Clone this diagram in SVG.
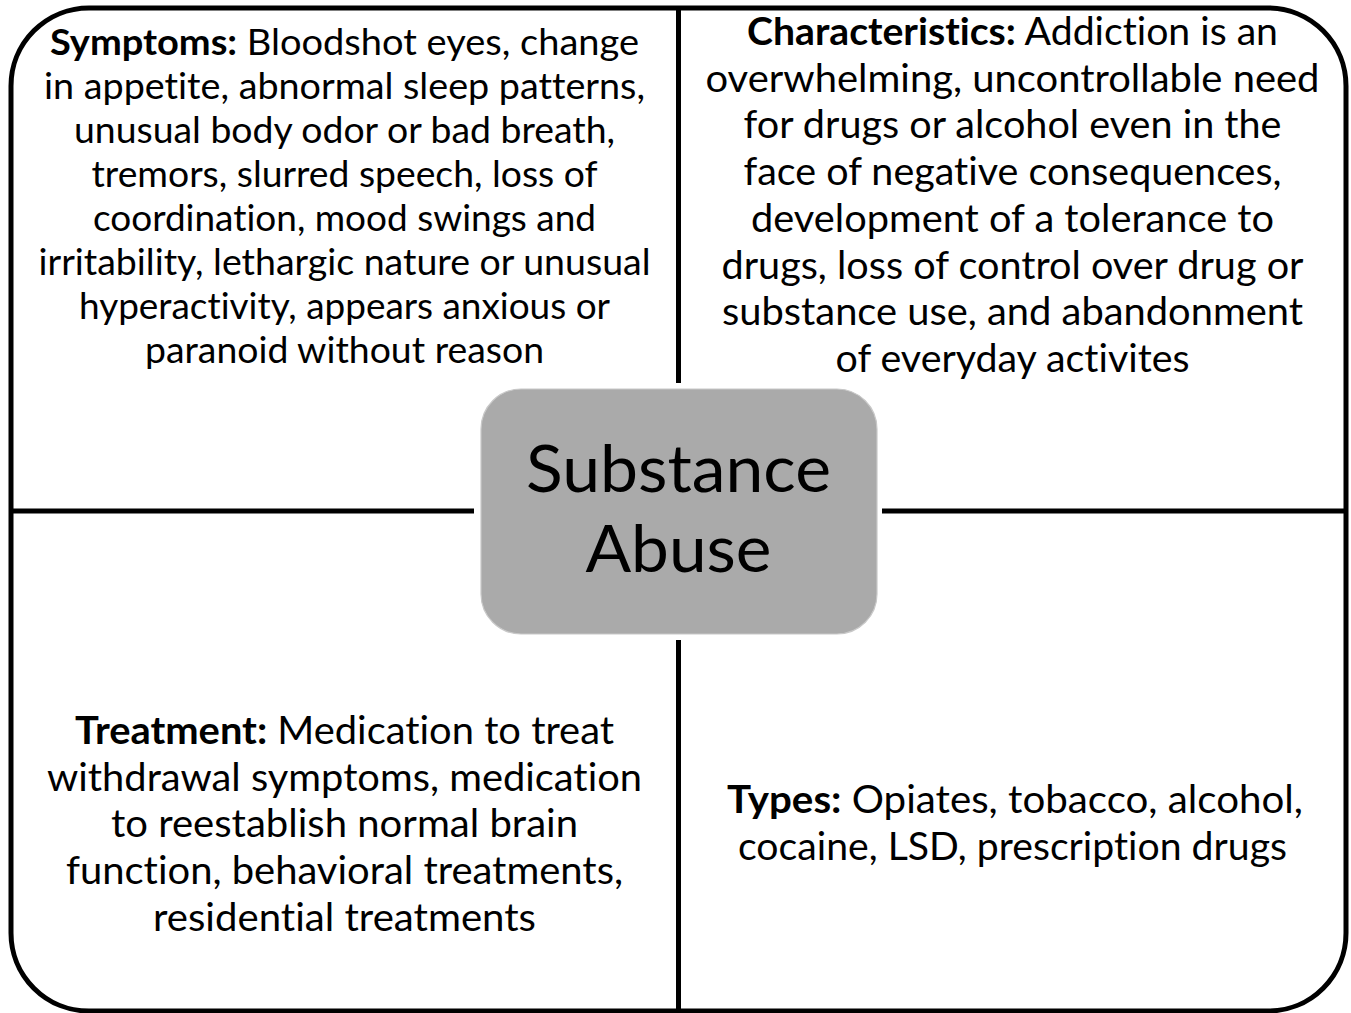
<svg xmlns="http://www.w3.org/2000/svg" width="1351" height="1013" viewBox="0 0 1351 1013">
  <style>
    .frame { fill: #ffffff; stroke: #000000; stroke-width: 5; }
    .divider { stroke: #000000; stroke-width: 5; fill: none; }
    .hub { fill: #aaaaaa; stroke: #c8c8c8; stroke-width: 1.2; }
    .t { font-family: Lato, "Open Sans", "Liberation Sans", sans-serif; fill: #000000; text-anchor: middle; font-variant-ligatures: none; }
    .s40 { font-size: 36.2px; }
    .s42 { font-size: 38.6px; }
    .hubtext { font-size: 66.5px; }
    .b { font-weight: bold; }
  </style>

  <rect width="1351" height="1013" fill="#ffffff"/>

  <!-- outer rounded frame -->
  <g id="frame">
    <rect class="frame" x="11" y="8" width="1335" height="1003" rx="78" ry="78"/>
  </g>

  <!-- quadrant dividers leading to the hub -->
  <g id="connectors">
    <line class="divider" x1="678.5" y1="8" x2="678.5" y2="383"/>
    <line class="divider" x1="678.5" y1="640" x2="678.5" y2="1011"/>
    <line class="divider" x1="11" y1="511" x2="474" y2="511"/>
    <line class="divider" x1="882" y1="511" x2="1346" y2="511"/>
  </g>

  <!-- top-left quadrant -->
  <g id="symptoms" class="t s40">
    <text x="344.5" y="55" textLength="589" lengthAdjust="spacingAndGlyphs"><tspan class="b">Symptoms:</tspan> Bloodshot eyes, change</text>
    <text x="344.5" y="99" textLength="601" lengthAdjust="spacingAndGlyphs">in appetite, abnormal sleep patterns,</text>
    <text x="344.5" y="143" textLength="541" lengthAdjust="spacingAndGlyphs">unusual body odor or bad breath,</text>
    <text x="344.5" y="187" textLength="506" lengthAdjust="spacingAndGlyphs">tremors, slurred speech, loss of</text>
    <text x="344.5" y="231" textLength="503" lengthAdjust="spacingAndGlyphs">coordination, mood swings and</text>
    <text x="344.5" y="275" textLength="612" lengthAdjust="spacingAndGlyphs">irritability, lethargic nature or unusual</text>
    <text x="344.5" y="319" textLength="531" lengthAdjust="spacingAndGlyphs">hyperactivity, appears anxious or</text>
    <text x="344.5" y="363" textLength="399" lengthAdjust="spacingAndGlyphs">paranoid without reason</text>
  </g>

  <!-- top-right quadrant -->
  <g id="characteristics" class="t s42">
    <text x="1012.5" y="45" textLength="531" lengthAdjust="spacingAndGlyphs"><tspan class="b">Characteristics:</tspan> Addiction is an</text>
    <text x="1012.5" y="91.7" textLength="614" lengthAdjust="spacingAndGlyphs">overwhelming, uncontrollable need</text>
    <text x="1012.5" y="138.4" textLength="538" lengthAdjust="spacingAndGlyphs">for drugs or alcohol even in the</text>
    <text x="1012.5" y="185.1" textLength="538" lengthAdjust="spacingAndGlyphs">face of negative consequences,</text>
    <text x="1012.5" y="231.8" textLength="523" lengthAdjust="spacingAndGlyphs">development of a tolerance to</text>
    <text x="1012.5" y="278.5" textLength="582" lengthAdjust="spacingAndGlyphs">drugs, loss of control over drug or</text>
    <text x="1012.5" y="325.2" textLength="581" lengthAdjust="spacingAndGlyphs">substance use, and abandonment</text>
    <text x="1012.5" y="371.9" textLength="354" lengthAdjust="spacingAndGlyphs">of everyday activites</text>
  </g>

  <!-- bottom-left quadrant -->
  <g id="treatment" class="t s42">
    <text x="344.5" y="744" textLength="539" lengthAdjust="spacingAndGlyphs"><tspan class="b">Treatment:</tspan> Medication to treat</text>
    <text x="344.5" y="790.7" textLength="595" lengthAdjust="spacingAndGlyphs">withdrawal symptoms, medication</text>
    <text x="344.5" y="837.4" textLength="467" lengthAdjust="spacingAndGlyphs">to reestablish normal brain</text>
    <text x="344.5" y="884.1" textLength="557" lengthAdjust="spacingAndGlyphs">function, behavioral treatments,</text>
    <text x="344.5" y="930.8" textLength="383" lengthAdjust="spacingAndGlyphs">residential treatments</text>
  </g>

  <!-- bottom-right quadrant -->
  <g id="types" class="t s42">
    <text x="1015" y="813" textLength="576" lengthAdjust="spacingAndGlyphs"><tspan class="b">Types:</tspan> Opiates, tobacco, alcohol,</text>
    <text x="1012.5" y="860" textLength="549" lengthAdjust="spacingAndGlyphs">cocaine, LSD, prescription drugs</text>
  </g>

  <!-- central hub -->
  <g id="substance-abuse">
    <rect class="hub" x="481" y="389" width="396" height="245" rx="40" ry="40"/>
    <text class="t hubtext" x="678.5" y="492" textLength="305" lengthAdjust="spacingAndGlyphs">Substance</text>
    <text class="t hubtext" x="678.5" y="572" textLength="186" lengthAdjust="spacingAndGlyphs">Abuse</text>
  </g>
</svg>
